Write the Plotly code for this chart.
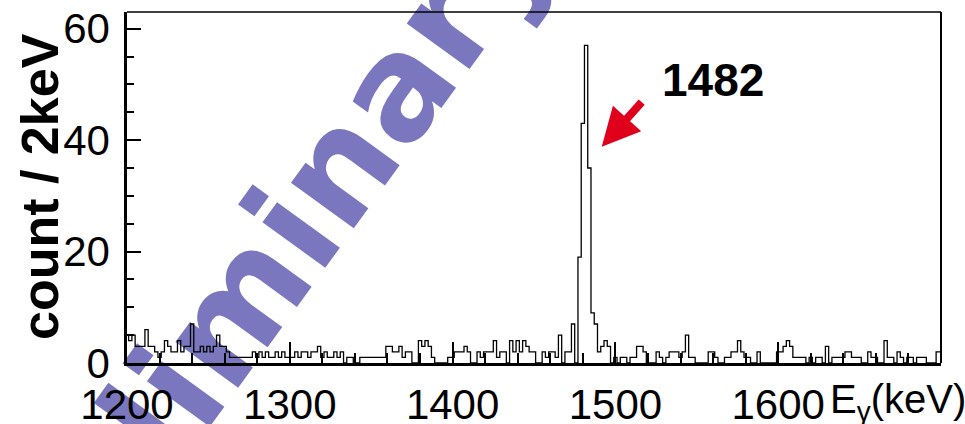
import numpy as np
import plotly.graph_objects as go

# Gamma-ray spectrum, 2 keV bins centred on even energies from 1200 to 1700 keV
BIN_WIDTH = 2
E_START = 1200
counts = [
    5, 4, 5, 3, 3, 3, 6, 3, 3, 2,
    1, 2, 4, 3, 2, 2, 4, 2, 3, 3,
    7, 2, 2, 3, 2, 3, 2, 3, 5, 3,
    3, 2, 1, 1, 1, 1, 1, 1, 1, 2,
    1, 2, 1, 2, 1, 1, 2, 1, 2, 1,
    1, 1, 2, 1, 2, 2, 1, 2, 2, 3,
    1, 2, 1, 1, 2, 1, 2, 0, 1, 1,
    0, 0, 1, 1, 1, 1, 1, 1, 1, 1,
    3, 3, 2, 2, 3, 1, 2, 2, 0, 0,
    4, 3, 4, 3, 1, 0, 0, 0, 0, 1,
    1, 2, 2, 2, 3, 2, 0, 0, 2, 1,
    2, 2, 2, 4, 1, 2, 2, 0, 4, 2,
    4, 2, 4, 3, 2, 2, 0, 0, 2, 1,
    2, 2, 1, 5, 0, 2, 2, 7, 0, 19,
    43, 57, 35, 9, 7, 2, 3, 4, 3, 0,
    1, 0, 1, 1, 0, 1, 1, 3, 3, 2,
    0, 0, 0, 2, 1, 0, 1, 2, 2, 2,
    1, 2, 5, 1, 1, 0, 0, 0, 0, 2,
    2, 1, 0, 0, 1, 1, 2, 2, 4, 2,
    1, 1, 0, 0, 2, 0, 0, 0, 0, 0,
    2, 2, 3, 4, 3, 1, 1, 1, 1, 0,
    1, 0, 1, 1, 0, 3, 0, 1, 1, 1,
    1, 2, 2, 1, 1, 1, 0, 0, 2, 1,
    1, 0, 0, 4, 1, 1, 0, 2, 1, 0,
    1, 1, 0, 1, 1, 1, 0, 0, 0, 2,
    2,
]
energies = E_START + BIN_WIDTH * np.arange(len(counts))

x_ticks = [1200, 1300, 1400, 1500, 1600]
y_ticks = [0, 20, 40, 60]

peak_label = "1482"
peak_energy = 1482

SANS = "Liberation Sans, Arial, sans-serif"

fig = go.Figure()
fig.add_trace(go.Scatter(
    x=energies, y=counts, mode="lines",
    line=dict(shape="hvh", color="black", width=1.3),
    hoverinfo="x+y", showlegend=False,
))

fig.update_layout(
    width=965, height=424,
    margin=dict(l=127, r=24, t=12, b=61),
    paper_bgcolor="white", plot_bgcolor="rgba(0,0,0,0)",
    xaxis=dict(
        range=[1200, 1700], tickvals=x_ticks, ticktext=[str(v) for v in x_ticks],
        ticks="inside", ticklen=21, tickwidth=1.5, tickcolor="black",
        minor=dict(dtick=20, tick0=1200, ticks="inside", ticklen=10, tickwidth=1.5, tickcolor="black"),
        showline=True, linewidth=2.5, linecolor="black", showgrid=False, zeroline=False,
        tickfont=dict(family=SANS, size=42, color="black"),
        ticklabelstandoff=3, automargin=False,
    ),
    yaxis=dict(
        range=[0, 63], tickvals=y_ticks,
        ticks="inside", ticklen=14, tickwidth=1.5, tickcolor="black",
        minor=dict(dtick=5, tick0=0, ticks="inside", ticklen=7, tickwidth=1.5, tickcolor="black"),
        showline=True, linewidth=2.5, linecolor="black", showgrid=False, zeroline=False,
        tickfont=dict(family=SANS, size=42, color="black"),
        ticklabelstandoff=6, automargin=False,
    ),
)

# frame: top and right borders
fig.add_shape(type="line", xref="paper", yref="paper", x0=0, x1=1, y0=1, y1=1,
              line=dict(color="black", width=1.5))
fig.add_shape(type="line", xref="paper", yref="paper", x0=1, x1=1, y0=0, y1=1,
              line=dict(color="black", width=2))

# watermark, drawn beneath the axes and the spectrum
fig.add_shape(
    type="rect", xref="paper", yref="paper", layer="below",
    x0=0.1270, x1=0.1470, y0=0.2095, y1=0.2295,
    line=dict(width=0), fillcolor="rgba(0,0,0,0)",
    label=dict(text="Preliminary", textangle=-54, textposition="middle center",
               font=dict(family="DejaVu Sans", size=142, color="#7b77bf", weight="bold")),
)

# axis titles
fig.add_annotation(
    text="count / 2keV", xref="paper", yref="paper", x=-0.107, y=0.504,
    xanchor="center", yanchor="middle", textangle=-90, showarrow=False,
    font=dict(family=SANS, size=52, color="black", weight="bold"),
)
fig.add_annotation(
    text="E<sub>γ</sub>(keV)", xref="paper", yref="paper", x=0.947, y=-0.11,
    xanchor="center", yanchor="middle", showarrow=False,
    font=dict(family=SANS, size=40, color="black"),
)

# peak marker
fig.add_annotation(
    text=peak_label, x=1560, y=50.8, xanchor="center", yanchor="middle",
    showarrow=False, font=dict(family=SANS, size=46, color="black", weight="bold"),
)
fig.add_annotation(
    text=" ", x=peak_energy + 9.6, y=38.8, ax=43, ay=-48,
    showarrow=True, arrowhead=2, arrowsize=0.95, arrowwidth=8, arrowcolor="#e0001b",
)

fig.write_html("out.html")
